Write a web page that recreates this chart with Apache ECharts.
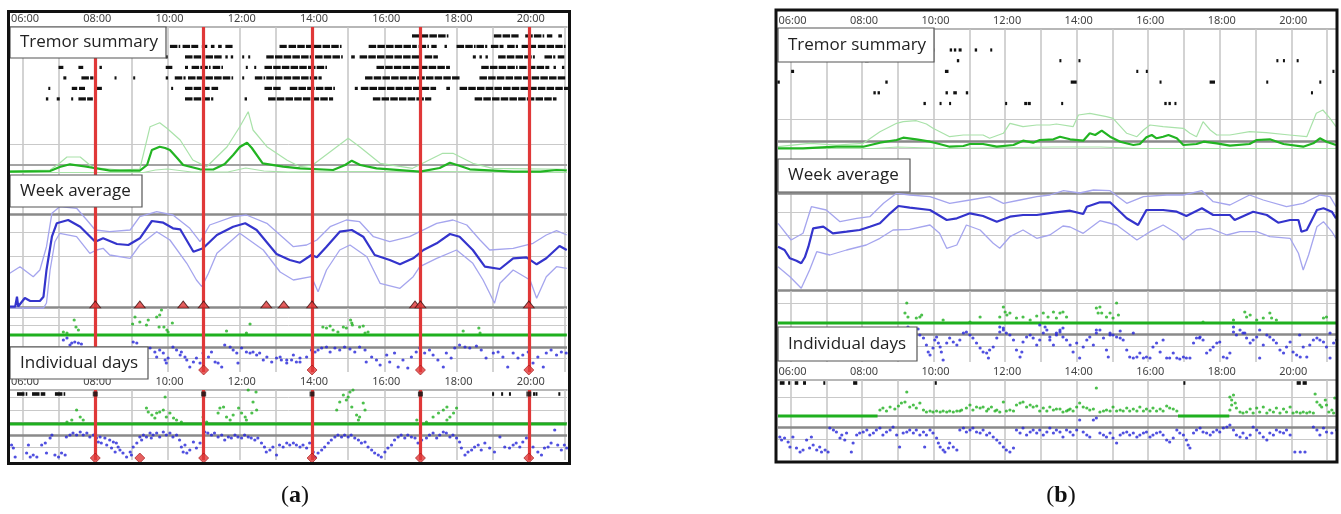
<!DOCTYPE html>
<html><head><meta charset="utf-8">
<script src="https://cdn.jsdelivr.net/npm/echarts@6/dist/echarts.min.js"></script>
<style>html,body{margin:0;padding:0;background:#fff}#c{width:1341px;height:514px}</style>
</head><body><div id="c"></div>
<script>
// ---------- time axis (minutes since midnight) ----------
const hourTicks = [360,420,480,540,600,660,720,780,840,900,960,1020,1080,1140,1200,1260];
const labelTicks = [360,480,600,720,840,960,1080,1200];
const labelsText = ['Tremor summary','Week average','Individual days'];
const captions = ['a','b'];

// ---------- panel (a) ----------
const redTimesA = [480,660,840,1020,1200];
const trianglesA = [480,554,626,660,764,793,840,1011,1020,1200];
const diamondsA1 = [480,660,840,1020,1200];
const diamondsA2 = [480,554,660,840,1020,1200];
const tremorA = [
 [[1006,1066],[1142,1183],[1194,1224],[1230,1239],[1249,1255]],
 [[604,621],[625,651],[657,666],[672,678],[684,690],[696,708],[786,798],[801,840],[843,888],[934,1014],[1017,1032],[1038,1047],[1060,1064],[1080,1110],[1113,1131],[1137,1158],[1164,1182],[1188,1212],[1215,1260]],
 [[597,600],[629,660],[663,690],[696,700],[705,709],[724,727],[734,737],[764,840],[845,889],[905,911],[919,1019],[1027,1049],[1107,1112],[1118,1122],[1128,1132],[1149,1210],[1226,1244],[1248,1259]],
 [[419,427],[452,460],[487,491],[597,608],[629,634],[640,670],[675,690],[730,733],[744,747],[761,864],[947,1069],[1121,1180],[1184,1234],[1241,1245],[1255,1259]],
 [[427,432],[457,477],[512,515],[543,546],[597,601],[612,630],[634,709],[724,727],[745,760],[764,856],[928,1085],[1118,1262]],
 [[402,404],[441,450],[453,463],[482,491],[606,609],[629,670],[673,684],[761,789],[803,878],[911,916],[921,1046],[1063,1069],[1085,1265]],
 [[398,402],[416,421],[440,442],[452,476],[629,676],[728,732],[767,875],[941,1038],[1110,1246]]
];
const greenMeanA = [[338,1.3],[405,2],[421,6],[438,8.7],[463,6.5],[505,2.3],[554,2.3],[566,8],[574,23],[587,26.3],[596,25],[604,23],[616,15],[626,8],[654,3.7],[676,3.5],[695,9],[709,18],[720,26],[732,30.3],[740,25],[758,9.7],[792,6.3],[820,4.7],[875,3],[895,8],[906,12.3],[920,8],[947,4.7],[1019,1.3],[1052,5],[1069,10.3],[1086,7],[1102,3.7],[1174,1.3],[1219,1.3],[1246,3],[1263,2.5]];
const greenHiA = [[338,2],[405,3],[421,10],[433,16],[455,16],[476,5.5],[521,3],[554,4],[571,46.3],[587,50.3],[599,44.7],[621,33],[642,13],[665,6.3],[699,26.3],[720,46.3],[734,61.3],[742,43],[765,26.3],[798,13],[820,6.3],[841,8],[900,34.7],[919,26.3],[953,9.7],[1007,4.7],[1057,19.7],[1074,19.7],[1107,9.7],[1140,4.7],[1263,3.7]];
const greenLoA = [[338,0.5],[560,0.5],[580,3],[600,4],[640,1],[700,1],[730,5],[760,2],[800,0.8],[900,1.5],[1060,1.5],[1263,0.5]];
const blueMeanA = [[338,1.3],[347,1.3],[350,11.3],[352,1.5],[363,10],[372,7],[388,7],[394,11.3],[399,38],[408,71.3],[416,84.7],[435,88],[455,81.3],[480,66.3],[493,69.7],[516,64],[535,63],[554,69.7],[574,87],[593,85.3],[609,79.7],[621,78.7],[643,56.3],[659,59.7],[682,73],[709,81.3],[729,84.7],[748,78],[781,54],[803,48],[820,45.3],[839,53],[848,50.7],[864,61.3],[886,76.3],[906,78],[925,71.3],[944,53],[969,48],[986,43.7],[1008,49.7],[1025,58],[1047,64.7],[1069,74],[1085,71.3],[1107,58],[1127,41.3],[1152,39],[1174,49.7],[1196,50.7],[1213,43.7],[1229,49.7],[1251,62],[1263,58]];
const blueHiA = [[338,34.7],[355,41.3],[377,31.3],[388,38],[399,61.3],[408,94.7],[421,101.3],[449,99.7],[466,88],[480,78],[504,76.3],[538,78],[554,91.3],[582,96.3],[609,93],[637,79.7],[654,66.3],[670,83],[709,91.3],[731,93],[765,84.7],[787,73],[809,61.3],[831,63],[848,68],[870,81.3],[897,88],[919,86.3],[942,71.3],[969,66.3],[1002,71.3],[1019,76.3],[1047,84.7],[1074,88],[1097,83],[1119,68],[1135,58],[1174,59.7],[1207,64.7],[1229,73],[1246,77.3],[1263,73]];
const blueLoA = [[338,0],[394,0],[399,5],[405,38],[413,66.3],[421,74.7],[449,71.3],[471,54.7],[482,58],[493,59.7],[504,53],[538,49.7],[554,63],[582,76.3],[604,68],[632,44.7],[648,28],[657,21.3],[668,34.7],[682,54.7],[720,74.7],[759,58],[787,36],[809,28],[839,31.3],[850,16.3],[864,38],[886,58],[903,63],[931,51.3],[953,24.7],[986,19.7],[1008,31.3],[1019,41.3],[1047,49.7],[1080,58],[1107,44.7],[1124,28],[1135,14.7],[1143,4.7],[1152,24.7],[1174,38],[1202,28],[1213,9.7],[1229,31.3],[1246,41.3],[1263,39.7]];
const dayA1Base = [[338,37],[1263,37]];
const dayA1Green = [[445,52],[448,45],[452,42],[433,39],[427,40],[546,55],[542,48],[554,50],[565,47],[568,52],[582,55],[587,57],[590,62],[586,45],[594,45],[599,42],[608,49],[601,40],[737,48],[731,39],[698,41],[858,45],[864,44],[870,46],[875,42],[883,40],[892,45],[897,44],[904,52],[907,47],[906,49],[919,45],[925,46],[928,39],[933,40],[1091,41],[1117,44],[1119,39]];
const dayA1Blue = [[427,32],[433,34],[441,29],[446,30],[452,29],[457,28],[438,27],[543,30],[549,29],[571,24],[579,20],[582,15],[587,22],[593,19],[596,12],[598,9],[601,14],[609,25],[615,22],[621,17],[623,20],[629,15],[632,12],[637,5],[643,10],[648,14],[654,9],[659,19],[668,15],[673,20],[679,10],[684,9],[690,5],[695,27],[704,25],[709,22],[715,19],[717,9],[723,24],[731,20],[737,19],[742,20],[748,17],[753,19],[759,12],[765,15],[773,10],[781,14],[789,12],[798,9],[806,12],[814,10],[820,14],[787,15],[798,12],[809,17],[820,10],[831,15],[839,22],[845,20],[850,22],[856,24],[864,25],[870,20],[878,24],[886,22],[894,25],[903,23],[911,20],[919,25],[928,22],[930,10],[939,15],[947,12],[953,7],[964,17],[969,10],[977,19],[983,5],[991,12],[999,4],[1005,15],[1013,20],[1019,24],[1027,19],[1035,22],[1041,17],[1049,12],[1058,5],[1063,19],[1071,14],[1077,24],[1085,27],[1094,25],[1102,24],[1113,26],[1121,22],[1129,14],[1141,19],[1149,20],[1157,15],[1165,5],[1174,19],[1182,14],[1190,17],[1199,20],[1207,9],[1215,15],[1224,5],[1229,19],[1237,22],[1246,17],[1254,20],[1262,19]];
const dayA2Trem = [[350,367],[375,397],[413,430],[1139,1141],[1154,1156],[1167,1169],[1207,1209],[1211,1213],[1249,1251]];
const dayA2Base = [[338,36],[1263,36]];
const dayA2Green = [[449,50],[455,43],[460,40],[441,40],[433,38],[565,52],[568,48],[574,45],[579,42],[582,47],[587,48],[593,50],[596,63],[598,43],[604,47],[610,42],[615,40],[623,38],[659,43],[665,38],[684,47],[687,52],[693,53],[698,43],[704,40],[709,45],[718,52],[723,47],[729,43],[734,70],[740,47],[742,58],[747,68],[748,50],[731,40],[881,50],[886,58],[892,65],[897,60],[900,63],[903,68],[908,70],[906,53],[914,45],[919,43],[925,57],[928,50],[917,40],[1014,40],[1030,38],[1041,43],[1050,47],[1058,50],[1064,53],[1069,43],[1075,47],[1080,52],[1064,40]];
const dayA2Blue = [[341,15],[344,12],[347,3],[369,15],[366,7],[372,3],[377,5],[383,3],[391,15],[397,17],[399,7],[405,22],[408,25],[413,5],[419,3],[424,7],[430,5],[432,23],[438,25],[443,27],[449,25],[455,28],[460,25],[466,27],[471,23],[477,25],[482,22],[485,18],[488,23],[490,17],[496,22],[499,15],[504,20],[507,12],[510,18],[513,8],[515,17],[518,13],[521,10],[526,7],[532,3],[538,8],[540,5],[543,13],[549,17],[554,23],[557,20],[560,25],[565,23],[571,27],[573,22],[576,25],[582,27],[587,23],[593,28],[598,25],[604,27],[609,23],[615,25],[620,20],[623,13],[626,8],[629,15],[632,7],[637,10],[643,18],[648,12],[654,17],[662,28],[667,27],[673,25],[678,27],[684,23],[690,25],[695,20],[701,23],[706,22],[712,25],[717,23],[723,22],[728,25],[734,23],[739,22],[745,20],[750,22],[756,17],[761,13],[764,8],[770,10],[775,13],[781,5],[786,15],[792,13],[798,17],[803,15],[809,17],[814,15],[820,13],[825,15],[831,12],[836,17],[842,8],[845,3],[850,7],[856,10],[861,13],[867,17],[872,20],[878,23],[883,25],[889,23],[894,25],[900,23],[905,25],[911,22],[917,20],[922,17],[928,18],[933,13],[939,10],[944,7],[950,5],[955,3],[961,8],[966,12],[972,15],[977,20],[983,23],[988,25],[994,22],[999,25],[1005,23],[1011,22],[1016,17],[1022,20],[1030,22],[1035,25],[1041,27],[1047,22],[1052,25],[1058,28],[1063,27],[1069,23],[1074,25],[1080,22],[1085,18],[1088,12],[1094,5],[1099,8],[1105,10],[1110,13],[1116,15],[1121,10],[1127,17],[1135,12],[1143,8],[1152,23],[1160,13],[1168,12],[1174,15],[1179,17],[1185,13],[1190,18],[1196,22],[1207,13],[1215,8],[1221,5],[1226,12],[1232,13],[1237,17],[1243,30],[1248,15],[1254,10],[1259,15],[1263,12]];

// ---------- panel (b) ----------
const tremorB = [
 [],
 [[597,601],[627,631],[634,638],[642,647],[669,673],[695,698]],
 [[485,491],[639,643],[811,813],[843,845],[1175,1178],[1186,1189],[1209,1212]],
 [[361,366],[619,625],[940,942],[956,958],[1269,1271]],
 [[338,342],[519,523],[830,840],[979,981],[1063,1072],[1158,1160],[1247,1249]],
 [[499,503],[506,510],[620,624],[633,639],[654,658],[1233,1235]],
 [[583,587],[610,612],[626,628],[720,722],[752,757],[758,763],[814,816],[987,991],[994,998],[1004,1007]]
];
const greenMeanB = [[339,1.7],[381,1.7],[437,3.3],[482,3.3],[510,7.3],[538,10],[549,12.3],[571,10.7],[594,8.3],[605,6.7],[627,3.3],[650,4],[661,6],[683,6],[706,3.3],[734,5],[750,9.3],[767,7.3],[778,10],[801,10.7],[812,13.3],[829,10.7],[851,9.3],[862,16.7],[871,15],[882,19.3],[896,13.3],[913,8.3],[935,5],[946,6],[957,12.7],[966,15],[974,11.7],[985,13.3],[994,15],[1008,11.7],[1019,5],[1041,6],[1053,8.3],[1075,6.7],[1097,4.3],[1130,6],[1142,10],[1164,10.7],[1187,6],[1220,3.3],[1237,6.7],[1248,11.7],[1259,8.3],[1275,5]];
const greenHiB = [[339,3.3],[392,6.7],[437,5],[482,6.7],[510,18.3],[538,26.7],[549,28.3],[571,29.3],[588,26],[599,21.7],[627,13.3],[650,15],[683,15],[694,11.7],[717,16.7],[728,26.7],[750,23.3],[773,25],[795,25],[806,26],[834,23.3],[843,35],[862,36.7],[890,33.3],[901,31.7],[924,16.7],[941,13.3],[952,20],[963,25],[985,23.3],[1019,21.7],[1030,16.7],[1041,13.3],[1052,28.3],[1064,20],[1075,15],[1097,15],[1130,18.3],[1158,17.3],[1197,15],[1226,13.3],[1242,36.7],[1253,40],[1265,31.7],[1275,23.3]];
const greenLoB = [[339,1.5],[500,1.5],[540,3],[620,1.5],[800,3],[880,3],[950,1.5],[1275,1.5]];
const blueMeanB = [[339,44.3],[350,41],[359,32.7],[370,30.3],[378,27.7],[384,33.7],[390,44.3],[398,62.7],[415,64.3],[431,57.7],[454,59.3],[476,61],[493,64.3],[510,67.7],[527,77.7],[541,85],[560,83.3],[594,81],[622,71],[639,72.7],[661,77.7],[683,75],[706,69.3],[728,74.3],[750,76],[773,76],[801,78.3],[829,80.3],[851,77],[857,84.3],[879,88.7],[896,88.7],[924,72.7],[943,66],[957,81],[985,81],[1008,79.3],[1024,75],[1050,82.7],[1069,76],[1097,76],[1105,71],[1136,79.3],[1159,76],[1178,68.3],[1198,71],[1212,71],[1217,59.3],[1226,61],[1243,81],[1254,82.7],[1268,79.3],[1275,72.7]];
const blueHiB = [[339,67.7],[361,51],[381,57.7],[395,84.3],[420,81],[443,69.3],[471,72.7],[493,74.3],[516,87.7],[538,97.7],[560,96],[594,94.3],[627,87.7],[661,91],[694,94.3],[717,87.7],[745,91],[773,94.3],[795,96],[818,100.3],[845,98],[868,101],[896,100.3],[924,87.7],[952,94.3],[991,96],[1019,96],[1050,100.3],[1069,89.3],[1097,86],[1130,96],[1153,91],[1192,84.3],[1220,87.7],[1248,96],[1265,94.3],[1275,84.3]];
const blueLoB = [[339,24.3],[359,14.3],[378,2.7],[392,21],[404,39.3],[426,36],[454,41],[487,46],[510,52.7],[532,61],[560,61.7],[594,66],[610,57.7],[622,42.7],[639,46],[655,66],[678,61],[700,47.7],[711,42.7],[728,54.3],[750,61],[773,52.7],[795,56],[817,65],[829,64],[851,57.7],[879,70.3],[907,66],[941,51],[963,59.3],[985,66],[1008,57.7],[1019,51],[1041,61],[1064,62.7],[1092,56],[1114,59.3],[1142,59.3],[1164,54.3],[1198,52.7],[1212,37.7],[1220,21],[1229,36],[1243,64.3],[1254,69.3],[1268,59.3],[1275,52.7]];
const dayB1Base = [[339,39],[1275,39]];
const dayB1Green = [[555,59],[552,49],[557,45],[571,44],[577,45],[580,47],[616,42],[661,40],[678,45],[711,45],[717,55],[720,50],[723,47],[728,49],[739,44],[750,45],[762,42],[773,46],[784,49],[792,45],[801,50],[806,44],[812,49],[817,50],[823,45],[873,54],[879,55],[876,49],[882,49],[890,45],[896,49],[901,44],[910,47],[907,59],[1052,40],[1103,42],[1122,50],[1125,45],[1131,47],[1142,42],[1153,44],[1164,49],[1167,44],[1175,42],[1254,44],[1259,45]];
const dayB1Blue = [[557,35],[566,32],[574,33],[577,27],[583,24],[588,17],[591,10],[594,7],[599,14],[602,22],[605,25],[608,19],[611,15],[613,10],[616,2],[622,19],[627,24],[633,20],[639,17],[644,22],[650,29],[655,30],[661,27],[666,24],[672,19],[678,14],[683,10],[689,9],[692,4],[694,12],[700,15],[706,24],[711,30],[711,35],[717,32],[717,34],[722,29],[728,27],[734,22],[739,12],[745,5],[748,10],[750,20],[756,25],[762,27],[767,24],[773,17],[778,22],[778,37],[784,29],[787,35],[790,32],[795,25],[795,22],[801,17],[806,27],[806,29],[812,30],[812,32],[817,25],[817,34],[823,22],[829,17],[834,10],[840,19],[845,4],[851,15],[857,22],[862,25],[868,17],[873,29],[873,32],[879,32],[885,24],[890,12],[893,5],[896,29],[896,27],[901,27],[907,25],[913,24],[913,31],[918,22],[924,12],[929,5],[935,4],[935,29],[941,5],[946,9],[952,4],[957,5],[963,4],[968,15],[974,19],[980,10],[985,22],[991,4],[996,4],[1002,9],[1008,4],[1013,3],[1019,5],[1024,4],[1030,4],[1036,19],[1041,24],[1046,24],[1047,25],[1052,22],[1058,9],[1064,12],[1069,15],[1075,19],[1080,20],[1086,5],[1092,4],[1097,9],[1103,30],[1103,35],[1108,27],[1114,32],[1119,29],[1122,29],[1125,24],[1131,19],[1136,22],[1142,25],[1147,4],[1147,32],[1153,17],[1159,27],[1164,25],[1170,22],[1175,19],[1181,12],[1187,9],[1192,15],[1198,20],[1203,10],[1209,7],[1214,27],[1215,5],[1220,15],[1226,5],[1231,17],[1237,22],[1243,24],[1248,22],[1254,20],[1259,15],[1265,4],[1265,29],[1271,19],[1276,22]];
const dayB2Trem = [[342,350],[356,359],[367,373],[381,386],[415,418],[465,472],[602,605],[1019,1022],[1209,1216],[1219,1226]];
const dayB2Base = [[339,44],[506,44],[506,null],[1010,null],[1010,44],[1096,44],[1096,null],[1275,null]];
const dayB2Green = [[510,50],[515,52],[521,49],[527,53],[535,51],[541,54],[546,57],[552,58],[555,68],[560,53],[566,55],[571,52],[577,57],[583,50],[588,48],[594,49],[599,48],[605,49],[611,48],[616,49],[622,48],[627,49],[633,48],[639,49],[644,49],[647,50],[655,52],[661,55],[666,50],[672,53],[678,52],[683,53],[689,49],[692,51],[697,53],[703,49],[706,50],[711,48],[717,58],[722,49],[728,50],[734,49],[739,55],[745,57],[750,58],[756,53],[762,55],[767,53],[773,54],[778,49],[784,52],[790,49],[795,53],[801,50],[806,51],[812,51],[817,48],[823,49],[826,50],[829,51],[834,49],[840,53],[845,57],[851,53],[857,52],[862,50],[868,51],[873,72],[879,48],[885,49],[890,50],[896,49],[901,53],[907,49],[913,50],[918,49],[924,52],[929,49],[935,51],[941,49],[946,53],[952,49],[957,51],[963,49],[968,52],[974,49],[980,51],[985,49],[991,54],[996,52],[1002,51],[1008,49],[1097,63],[1100,60],[1103,65],[1106,57],[1100,55],[1108,52],[1097,50],[1114,48],[1119,47],[1125,48],[1131,51],[1136,47],[1142,52],[1147,48],[1153,53],[1159,47],[1164,50],[1170,48],[1175,52],[1181,47],[1187,51],[1192,48],[1198,53],[1203,47],[1209,48],[1215,47],[1220,48],[1226,47],[1231,48],[1237,47],[1240,66],[1243,58],[1248,55],[1251,53],[1257,60],[1259,55],[1263,48],[1268,50],[1271,47],[1273,62]];
const dayB2Blue = [[342,23],[345,20],[350,22],[356,18],[359,13],[364,23],[370,12],[376,8],[381,10],[387,20],[392,12],[395,23],[398,15],[404,10],[409,13],[412,8],[418,10],[423,8],[426,32],[432,30],[437,28],[443,22],[446,25],[451,20],[454,27],[462,8],[465,17],[471,25],[476,27],[482,28],[488,30],[493,25],[499,27],[504,30],[510,32],[515,25],[521,28],[527,30],[532,33],[538,25],[543,13],[549,27],[555,28],[560,30],[566,27],[571,30],[577,25],[583,28],[585,13],[588,25],[594,30],[599,27],[605,22],[608,17],[611,13],[616,10],[619,8],[625,12],[627,17],[633,13],[639,10],[644,30],[650,32],[655,28],[661,30],[666,32],[672,28],[678,27],[683,30],[689,25],[694,27],[700,23],[706,20],[711,17],[717,13],[722,10],[728,8],[734,12],[739,30],[745,27],[750,32],[756,25],[762,28],[767,30],[773,27],[778,30],[784,25],[790,28],[795,32],[801,27],[806,30],[812,28],[817,23],[823,30],[829,28],[834,25],[840,30],[845,40],[851,28],[857,25],[862,23],[868,40],[873,42],[879,27],[885,25],[890,23],[896,27],[901,22],[907,17],[913,25],[918,27],[924,28],[929,25],[935,27],[941,23],[946,25],[952,27],[957,28],[963,23],[968,25],[974,27],[980,28],[985,25],[991,20],[996,18],[1002,22],[1008,30],[1013,27],[1019,25],[1024,20],[1027,15],[1030,12],[1036,27],[1041,30],[1047,32],[1052,28],[1058,27],[1064,25],[1069,28],[1075,30],[1080,28],[1086,32],[1092,33],[1097,35],[1103,30],[1108,25],[1114,23],[1119,27],[1125,22],[1131,25],[1136,33],[1142,30],[1147,27],[1153,23],[1159,20],[1164,27],[1170,25],[1175,30],[1181,28],[1187,27],[1192,30],[1198,25],[1206,8],[1215,8],[1223,8],[1237,33],[1243,30],[1248,25],[1254,32],[1259,28],[1268,27],[1276,30]];

// ---------- styles ----------
const C = {
  vline:'#c4c4c4', light:'#c9c9c9', mid:'#a3a3a3', dark:'#8a8a8a',
  gMean:'#22b422', gLight:'#a9e2a9', bMean:'#3434cc', bLight:'#a5a5ee',
  gDot:'#1fb01f', bDot:'#2424d8', red:'#e03838'
};
const HL = {
  light:{color:C.light,width:1,type:'solid'},
  mid:{color:C.mid,width:2,type:'solid'},
  dark:{color:C.dark,width:2.5,type:'solid'}
};
const fmt = v => String(Math.round(v/60)).padStart(2,'0') + ':00';

const grids=[], xAxes=[], yAxes=[], series=[];
function addGrid(p, g){
  const i = grids.length;
  grids.push({left:p.left, width:p.width, top:g.top, height:g.h, show:false});
  xAxes.push({gridIndex:i, type:'value', min:p.xmin, max:p.xmax, position:'top', show:!!g.labels,
    axisLine:{show:true, onZero:false, lineStyle:{color:'#a0a0a0', width:1.5}},
    axisTick:{show:false}, splitLine:{show:false},
    axisLabel:{customValues:labelTicks, formatter:fmt, color:'#444', fontSize:11, fontFamily:'Noto Sans', margin:3, padding:[0,0,0,4]}});
  yAxes.push({gridIndex:i, type:'value', min:g.ymin, max:g.ymax, inverse:!!g.inverse, show:false});
  const ml = hourTicks.map(t=>({xAxis:t, lineStyle:{color:C.vline, width:1.5, type:'solid'}}));
  (g.hl||[]).forEach(h=>ml.push({yAxis:h[0], lineStyle:HL[h[1]]}));
  series.push({type:'line', xAxisIndex:i, yAxisIndex:i, data:[], z:1, silent:true,
    markLine:{z:1, silent:true, symbol:['none','none'], label:{show:false}, animation:false, data:ml}});
  if (p.red) series.push({type:'line', xAxisIndex:i, yAxisIndex:i, data:[], z:5, silent:true,
    markLine:{z:5, silent:true, symbol:['none','none'], label:{show:false}, animation:false,
      data:p.red.map(t=>({xAxis:t, lineStyle:{color:C.red, width:3.2, type:'solid'}}))}});
  return i;
}
// tremor bars: drawn as short dashes with tiny gaps, like the minute-wise raster
function dashSeries(i, data, h){
  series.push({type:'custom', xAxisIndex:i, yAxisIndex:i, z:3, silent:true, clip:false,
    encode:{x:[0,1], y:2}, data:data,
    renderItem:(params, api)=>{
      const s = api.coord([api.value(0), api.value(2)]);
      const e = api.coord([api.value(1), api.value(2)]);
      const len = Math.max(e[0]-s[0], 2);
      const kids = [];
      let x = s[0];
      const piece = 7.5, gap = 1.2;
      while (x < s[0] + len - 0.1) {
        const w = Math.min(piece, s[0] + len - x);
        kids.push({type:'rect', shape:{x:x, y:s[1]-h/2, width:Math.max(w,1.6), height:h}, style:{fill:'#111'}});
        x += piece + gap;
      }
      return {type:'group', children:kids};
    }});
}
function lineS(i, data, color, w, z){
  series.push({type:'line', xAxisIndex:i, yAxisIndex:i, data:data, showSymbol:false, clip:false, silent:true,
    connectNulls:false, z:z||3, lineStyle:{color:color, width:w}});
}
function dots(i, data, color, size, symbol, extra){
  series.push(Object.assign({type:'scatter', xAxisIndex:i, yAxisIndex:i, data:data, symbol:symbol||'circle',
    symbolSize:size, clip:false, silent:true, z:4, itemStyle:{color:color}}, extra||{}));
}
function buildPanel(p, d){
  const g0 = addGrid(p, p.g[0]);
  dashSeries(g0, d.trem.flatMap((segs, r)=>segs.map(s=>[s[0], s[1], r+1])), 3.2);
  const g1 = addGrid(p, p.g[1]);
  lineS(g1, d.gLo, C.gLight, 1.2); lineS(g1, d.gHi, C.gLight, 1.2); lineS(g1, d.gMean, C.gMean, 2.2);
  const g2 = addGrid(p, p.g[2]);
  lineS(g2, d.bLo, C.bLight, 1.3); lineS(g2, d.bHi, C.bLight, 1.3); lineS(g2, d.bMean, C.bMean, 2.2);
  if (d.tri) dots(g2, d.tri.map(t=>[t,0]), C.red, [11,7], 'triangle',
      {z:6, symbolOffset:[0,'-50%'], itemStyle:{color:C.red, borderColor:'#401010', borderWidth:0.8}});
  const g3 = addGrid(p, p.g[3]);
  lineS(g3, d.d1Base, C.gDot, 3);
  dots(g3, d.d1Green, C.gDot, 3.2);
  dots(g3, d.d1Blue, C.bDot, 3.2);
  if (d.dia1) dots(g3, d.dia1.map(t=>[t,2]), C.red, 10, 'diamond', {z:6, itemStyle:{color:C.red, borderColor:'#a01010', borderWidth:0.8}});
  const g4 = addGrid(p, p.g[4]);
  dashSeries(g4, d.d2Trem.map(s=>[s[0], s[1], p.g[4].tremV]), 3.6);
  lineS(g4, d.d2Base, C.gDot, 3);
  dots(g4, d.d2Green, C.gDot, 3.2);
  dots(g4, d.d2Blue, C.bDot, 3.2);
  if (d.dia2) dots(g4, d.dia2.map(t=>[t,2]), C.red, 10, 'diamond', {z:6, itemStyle:{color:C.red, borderColor:'#a01010', borderWidth:0.8}});
  if (p.red) dots(g4, p.red.map(t=>[t, p.g[4].tremV]), '#111', 5, 'rect', {z:6});
}

const panelA = {left:10, width:557, xmin:338.4, xmax:1263.4, red:redTimesA, g:[
  {top:27, h:80, ymin:0.15, ymax:7.77, inverse:true, labels:true},
  {top:107, h:66, ymin:0, ymax:66, hl:[[29,'light'],[8,'mid'],[1,'light']]},
  {top:173, h:135, ymin:0, ymax:135, hl:[[94,'dark'],[76,'light'],[52,'light'],[0.6,'dark']]},
  {top:308, h:64, ymin:0, ymax:64, hl:[[55,'light'],[47,'light'],[37,'mid'],[25,'dark'],[14,'light']]},
  {top:390, h:70, ymin:0, ymax:70, labels:true, tremV:66, hl:[[63,'light'],[50,'light'],[37,'mid'],[25,'dark'],[13,'light']]}
]};
const panelB = {left:778, width:558, xmin:339, xmax:1275, g:[
  {top:29, h:85, ymin:0.04, ymax:7.98, inverse:true, labels:true},
  {top:114, h:36, ymin:0, ymax:36, hl:[[31,'light'],[9,'dark'],[2,'light']]},
  {top:150, h:141, ymin:0, ymax:141, hl:[[98,'dark'],[79,'light'],[56,'light'],[0.6,'dark']]},
  {top:291, h:71, ymin:0, ymax:71, hl:[[59,'light'],[39,'mid'],[28,'dark'],[16,'light']]},
  {top:380, h:80, ymin:0, ymax:80, labels:true, tremV:77, hl:[[63,'light'],[44,'mid'],[33,'dark'],[21,'light']]}
]};

buildPanel(panelA, {trem:tremorA, gMean:greenMeanA, gHi:greenHiA, gLo:greenLoA, bMean:blueMeanA, bHi:blueHiA, bLo:blueLoA,
  tri:trianglesA, d1Base:dayA1Base, d1Green:dayA1Green, d1Blue:dayA1Blue, dia1:diamondsA1,
  d2Trem:dayA2Trem, d2Base:dayA2Base, d2Green:dayA2Green, d2Blue:dayA2Blue, dia2:diamondsA2});
buildPanel(panelB, {trem:tremorB, gMean:greenMeanB, gHi:greenHiB, gLo:greenLoB, bMean:blueMeanB, bHi:blueHiB, bLo:blueLoB,
  d1Base:dayB1Base, d1Green:dayB1Green, d1Blue:dayB1Blue,
  d2Trem:dayB2Trem, d2Base:dayB2Base, d2Green:dayB2Green, d2Blue:dayB2Blue});

// ---------- decorations ----------
function labelBox(x, y, w, h, text){
  return [
    {type:'rect', z:100, shape:{x:x, y:y, width:w, height:h}, style:{fill:'#fff', stroke:'#555', lineWidth:1.2}},
    {type:'text', z:101, x:x+10, y:y+h/2, style:{text:text, font:'17px "Open Sans"', fill:'#222', verticalAlign:'middle'}}
  ];
}
const graphic = [].concat(
  labelBox(10,27,156,31,labelsText[0]), labelBox(10,175,132,32,labelsText[1]), labelBox(10,347,138,32,labelsText[2]),
  labelBox(778,28,156,34,labelsText[0]), labelBox(778,159,132,33,labelsText[1]), labelBox(778,327,139,34,labelsText[2]),
  [{type:'rect', z:102, shape:{x:8.5, y:11.5, width:561, height:452}, style:{fill:'none', stroke:'#111', lineWidth:3}},
   {type:'rect', z:102, shape:{x:776, y:10, width:561, height:452}, style:{fill:'none', stroke:'#111', lineWidth:3}}]
);
const capRich = {p:{fontFamily:'Liberation Serif', fontSize:24, fontWeight:'normal', color:'#111'}, b:{fontFamily:'Liberation Serif', fontSize:24, fontWeight:'bold', color:'#111'}};
const chart = echarts.init(document.getElementById('c'), null, {renderer:'canvas'});
chart.setOption({
  animation:false, backgroundColor:'#fff',
  title:[
    {text:'{p|(}{b|'+captions[0]+'}{p|)}', left:290, top:479, textAlign:'center', textStyle:{rich:capRich}},
    {text:'{p|(}{b|'+captions[1]+'}{p|)}', left:1056, top:479, textAlign:'center', textStyle:{rich:capRich}}
  ],
  grid:grids, xAxis:xAxes, yAxis:yAxes, series:series, graphic:graphic
});
</script></body></html>
